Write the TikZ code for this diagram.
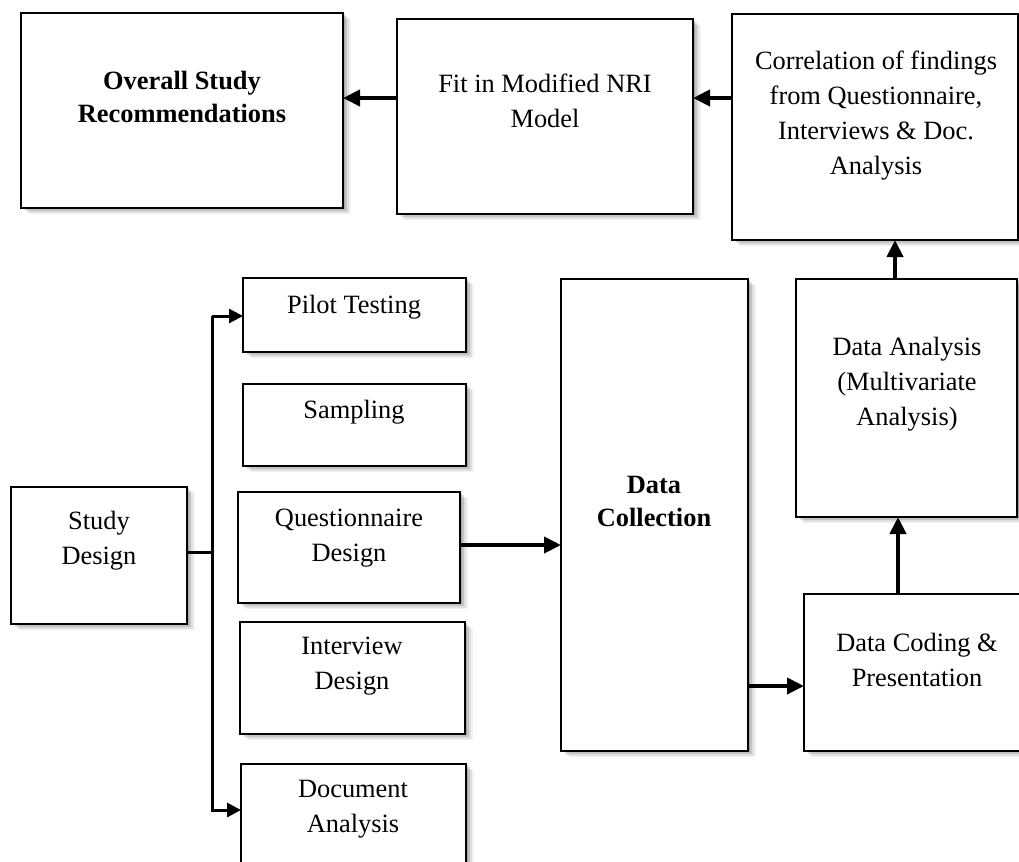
\documentclass[tikz,border=0pt]{standalone}
\usepackage{fontspec}
\setmainfont{Liberation Serif}
\usetikzlibrary{arrows.meta,shadows}
\tikzset{
  box/.style={draw=black, line width=1.5pt, fill=white, rectangle, inner sep=0pt, outer sep=0pt, anchor=north west,
    general shadow={fill=black, opacity=0.05, shadow xshift=6pt, shadow yshift=-4.5pt},
    general shadow={fill=black, opacity=0.08, shadow xshift=4.5pt, shadow yshift=-3.4pt},
    general shadow={fill=black, opacity=0.12, shadow xshift=3pt, shadow yshift=-2.2pt},
    general shadow={fill=black, opacity=0.15, shadow xshift=1.5pt, shadow yshift=-1.1pt}},
  txt/.style={align=center, inner sep=0pt, font=\fontsize{19.8pt}{26.25pt}\selectfont},
  btxt/.style={align=center, inner sep=0pt, font=\fontsize{19.8pt}{24.75pt}\selectfont\bfseries},
  bigarrow/.style={line width=3pt, -{Triangle[length=12.75pt,width=12pt]}},
  busline/.style={line width=2.25pt},
  busarrow/.style={line width=2.25pt, -{Triangle[length=10.5pt,width=10.5pt]}},
}
\newcommand{\mkbox}[5]{\node[box, minimum width={(#4-#2)*0.75pt}, minimum height={(#5-#3)*0.75pt}] (#1) at (#2,#3) {};}
\begin{document}
\begin{tikzpicture}[x=0.75pt, y=-0.75pt]
\useasboundingbox (0,0) rectangle (1019,861);
\clip (0,0) rectangle (1019,861);
\fill[white] (0,0) rectangle (1019,861);
% boxes
\mkbox{overall}{21}{13}{343}{208}
\mkbox{fit}{397}{19}{693}{214}
\mkbox{corr}{732}{14}{1018}{240}
\mkbox{pilot}{243}{278}{466}{352}
\mkbox{sampling}{243}{384}{466}{466}
\mkbox{quest}{238}{492}{460}{603}
\mkbox{interview}{240}{622}{465}{734}
\mkbox{doc}{241}{764}{466}{890}
\mkbox{study}{11}{487}{187}{624}
\mkbox{coll}{561}{279}{748}{751}
\mkbox{anal}{796}{279}{1017}{517}
\mkbox{coding}{804}{594}{1035}{751}
% texts
\node[btxt] (toverall) at (182,97) {Overall Study\\Recommendations};
\node[txt] (tfit) at (545,101) {Fit in Modified NRI\\Model};
\node[txt] (tcorr) at (876,115.5) {Correlation of findings\\from Questionnaire,\\Interviews \& Doc.\\Analysis};
\node[txt] (tpilot) at (354,307) {Pilot Testing};
\node[txt] (tsampling) at (354,412) {Sampling};
\node[txt] (tquest) at (349,538) {Questionnaire\\Design};
\node[txt] (tinterview) at (352,666) {Interview\\Design};
\node[txt] (tdoc) at (353,809.5) {Document\\Analysis};
\node[txt] (tstudy) at (99,540.5) {Study\\Design};
\node[btxt] (tcoll) at (654,501) {Data\\Collection};
\node[txt] (tanal) at (907,384) {Data Analysis\\(Multivariate\\Analysis)};
\node[txt] (tcoding) at (917,659.5) {Data Coding \&\\Presentation};
% helper coordinates
\coordinate (ytop) at (0,98);
\coordinate (xup1) at (895,0);
\coordinate (xup2) at (898,0);
\coordinate (ycoll) at (0,686);
\coordinate (yquest) at (0,545);
\coordinate (ystudy) at (0,552);
\coordinate (bt) at (212,316);
\coordinate (bb) at (212,810);
% connectors
\draw[bigarrow] (corr.west |- ytop) -- (fit.east |- ytop);
\draw[bigarrow] (fit.west |- ytop) -- (overall.east |- ytop);
\draw[bigarrow] (anal.north -| xup1) -- (corr.south -| xup1);
\draw[bigarrow] (coding.north -| xup2) -- (anal.south -| xup2);
\draw[bigarrow] (coll.east |- ycoll) -- (coding.west |- ycoll);
\draw[bigarrow] (quest.east |- yquest) -- (coll.west |- yquest);
\draw[busline] (study.east |- ystudy) -- (bt |- ystudy);
\draw[busarrow] (bt) -- (pilot.west |- bt);
\draw[busarrow] (bt) -- (bb) -- (doc.west |- bb);
\end{tikzpicture}
\end{document}
